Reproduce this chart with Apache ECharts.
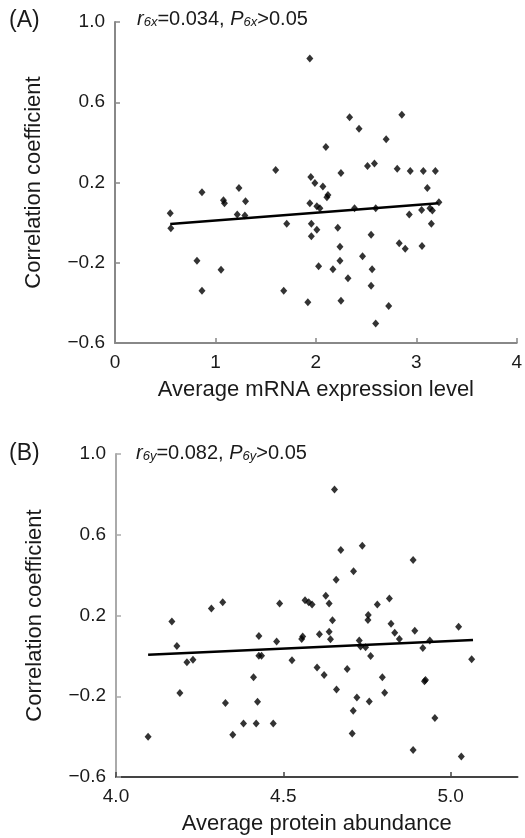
<!DOCTYPE html>
<html><head><meta charset="utf-8">
<script src="https://cdn.jsdelivr.net/npm/echarts@6/dist/echarts.min.js"></script>
<style>html,body{margin:0;padding:0;background:#fff}#c{width:525px;height:838px}</style>
</head><body><div id="c"></div>
<script>
// Panel A: average mRNA expression level vs correlation coefficient
const pointsA = [
  [0.55,0.047],[0.556,-0.028],[0.866,0.152],[0.816,-0.19],[0.866,-0.34],[1.056,-0.235],
  [1.08,0.112],[1.09,0.097],[1.234,0.172],[1.30,0.107],[1.217,0.04],[1.293,0.035],
  [1.60,0.262],[1.68,-0.34],[1.71,-0.005],[1.92,-0.397],[1.94,0.818],[1.95,0.227],
  [1.99,0.197],[1.94,0.097],[2.01,0.082],[2.04,0.072],[1.955,-0.005],[2.01,-0.035],
  [1.955,-0.068],[2.027,-0.218],[2.07,0.18],[2.10,0.377],[2.12,0.138],[2.11,0.127],
  [2.17,-0.233],[2.218,-0.025],[2.24,-0.12],[2.24,-0.19],[2.25,0.247],[2.25,-0.39],
  [2.32,-0.277],[2.336,0.525],[2.385,0.072],[2.43,0.468],[2.465,-0.168],[2.514,0.282],
  [2.55,-0.06],[2.56,-0.233],[2.55,-0.315],[2.583,0.295],[2.596,0.072],[2.596,-0.503],
  [2.70,0.415],[2.725,-0.415],[2.81,0.268],[2.83,-0.103],[2.856,0.538],[2.89,-0.13],
  [2.93,0.04],[2.94,0.257],[3.053,0.063],[3.057,-0.117],[3.07,0.257],[3.11,0.172],
  [3.136,0.072],[3.16,0.06],[3.15,-0.005],[3.19,0.257],[3.225,0.102]
];
const fitA = [[0.55,-0.007],[3.22,0.097]];

// Panel B: average protein abundance vs correlation coefficient
const pointsB = [
  [4.096,-0.40],[4.167,0.17],[4.182,0.049],[4.191,-0.184],[4.212,-0.032],[4.230,-0.019],
  [4.285,0.235],[4.319,0.266],[4.327,-0.234],[4.349,-0.391],[4.381,-0.335],[4.411,-0.106],
  [4.419,-0.335],[4.423,-0.227],[4.427,0.099],[4.427,0.001],[4.435,0.001],[4.470,-0.335],
  [4.480,0.071],[4.489,0.26],[4.526,-0.022],[4.555,0.084],[4.558,0.096],[4.565,0.275],
  [4.576,0.266],[4.586,0.255],[4.601,-0.057],[4.608,0.107],[4.622,-0.095],[4.627,0.298],
  [4.637,0.26],[4.637,0.119],[4.641,0.082],[4.647,0.177],[4.653,0.824],[4.658,0.377],
  [4.659,-0.166],[4.672,0.525],[4.691,-0.065],[4.710,0.419],[4.709,-0.272],[4.706,-0.385],
  [4.720,-0.206],[4.727,0.076],[4.731,0.046],[4.746,0.043],[4.736,0.545],[4.754,0.203],
  [4.753,0.178],[4.757,-0.226],[4.761,0.0],[4.781,0.255],[4.796,-0.106],[4.803,-0.183],
  [4.817,0.284],[4.822,0.159],[4.833,0.114],[4.847,0.084],[4.888,0.475],[4.888,-0.466],
  [4.893,0.125],[4.917,0.039],[4.922,-0.126],[4.925,-0.12],[4.938,0.076],[4.953,-0.308],
  [5.024,0.144],[5.032,-0.499],[5.063,-0.017]
];
const fitB = [[4.096,0.006],[5.067,0.079]];

const yRange = [-0.6, 1.0];
const yStep = 0.4;
const xRangeA = [0, 4];
const xStepA = 1;
const xRangeB = [4.0, 5.2];
const xStepB = 0.5;
const xTicksB = [4.0, 4.5, 5.0];

const panelLabels = ['(A)', '(B)'];
const xNames = ['Average mRNA expression level', 'Average protein abundance'];
const yName = 'Correlation coefficient';
const statA = {sub: '6x', r: '0.034', p: '0.05'};
const statB = {sub: '6y', r: '0.082', p: '0.05'};

const FONT = '"Liberation Sans", Arial, Helvetica, sans-serif';
const TXT = '#1a1a1a';
const fmtMinus = s => s.replace('-', '\u2212');

function yAxisCfg(gi, color) {
  return {
    gridIndex: gi, type: 'value', min: yRange[0], max: yRange[1], interval: yStep,
    name: yName, nameLocation: 'middle', nameGap: 70,
    nameTextStyle: {fontFamily: FONT, fontSize: 22, color: TXT},
    axisLine: {show: true, lineStyle: {color: color, width: 2}},
    axisTick: {show: true, inside: true, length: 5, lineStyle: {color: color, width: 1.5}},
    axisLabel: {fontFamily: FONT, fontSize: 19, color: TXT, margin: 10,
      formatter: v => fmtMinus(v.toFixed(1))},
    splitLine: {show: false}
  };
}
function xAxisCfg(gi, range, step, name, color, fmt, custom) {
  const tick = {show: true, inside: true, length: 5, lineStyle: {color: color, width: 1.5}};
  const label = {fontFamily: FONT, fontSize: 19, color: TXT, margin: 10, formatter: fmt};
  if (custom) { tick.customValues = custom; label.customValues = custom; }
  return {
    gridIndex: gi, type: 'value', min: range[0], max: range[1], interval: step,
    name: name, nameLocation: 'middle', nameGap: 36,
    nameTextStyle: {fontFamily: FONT, fontSize: 22, color: TXT},
    axisLine: {show: true, onZero: false, lineStyle: {color: color, width: 2}},
    axisTick: tick,
    axisLabel: label,
    splitLine: {show: false}
  };
}
function statText(s, left, top) {
  return {
    type: 'text', left: left, top: top,
    style: {
      text: '{i|r}{s|' + s.sub + '}{n|=' + s.r + ', }{i|P}{s|' + s.sub + '}{n|>' + s.p + '}',
      rich: {
        i: {fontFamily: FONT, fontSize: 20, fontStyle: 'italic', fill: TXT, lineHeight: 24, verticalAlign: 'bottom'},
        n: {fontFamily: FONT, fontSize: 20, fill: TXT, lineHeight: 24, verticalAlign: 'bottom'},
        s: {fontFamily: FONT, fontSize: 13, fontStyle: 'italic', fill: TXT, lineHeight: 7, verticalAlign: 'bottom'}
      }
    }
  };
}

const chart = echarts.init(document.getElementById('c'), null, {renderer: 'canvas'});
chart.setOption({
  backgroundColor: '#fff',
  animation: false,
  grid: [
    {left: 115, top: 22, width: 404, height: 321},
    {left: 116, top: 454, width: 401.5, height: 323}
  ],
  xAxis: [
    xAxisCfg(0, xRangeA, xStepA, xNames[0], '#888', v => String(Math.round(v)), null),
    xAxisCfg(1, xRangeB, xStepB, xNames[1], '#444', v => v.toFixed(1), xTicksB)
  ],
  yAxis: [yAxisCfg(0, '#888'), yAxisCfg(1, '#aaa')],
  graphic: [
    {type: 'text', left: 9, top: 9, style: {text: panelLabels[0], fontFamily: FONT, fontSize: 23, fill: TXT}},
    {type: 'text', left: 9, top: 442, style: {text: panelLabels[1], fontFamily: FONT, fontSize: 23, fill: TXT}},
    statText(statA, 137, 9),
    statText(statB, 136, 443)
  ],
  series: [
    {type: 'scatter', xAxisIndex: 0, yAxisIndex: 0, data: pointsA, symbol: 'diamond', symbolSize: [7, 8],
      itemStyle: {color: '#000'}, silent: true},
    {type: 'line', xAxisIndex: 0, yAxisIndex: 0, data: fitA, symbol: 'none',
      lineStyle: {color: '#000', width: 2.5}, silent: true},
    {type: 'scatter', xAxisIndex: 1, yAxisIndex: 1, data: pointsB, symbol: 'diamond', symbolSize: [7, 8],
      itemStyle: {color: '#000'}, silent: true},
    {type: 'line', xAxisIndex: 1, yAxisIndex: 1, data: fitB, symbol: 'none',
      lineStyle: {color: '#000', width: 2.5}, silent: true}
  ]
});
</script></body></html>
